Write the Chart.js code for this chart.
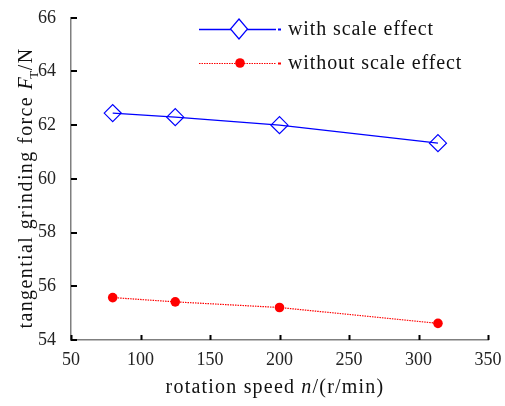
<!DOCTYPE html>
<html>
<head>
<meta charset="utf-8">
<script src="https://cdn.jsdelivr.net/npm/chart.js@4/dist/chart.umd.min.js"></script>
<style>
  html, body { margin: 0; padding: 0; background: #fff; }
  #wrap { width: 505px; height: 406px; position: relative; }
</style>
</head>
<body>
<div id="wrap"><canvas id="forceChart" width="505" height="406"></canvas></div>
<script>
// rotation speed n (r/min)
const speeds = [80, 125, 200, 314];
// tangential grinding force FT (N)
const withScale = [62.45, 62.3, 62.0, 61.33];
const withoutScale = [55.58, 55.42, 55.21, 54.62];

const xTicks = [50, 100, 150, 200, 250, 300, 350];
const yTicks = [54, 56, 58, 60, 62, 64, 66];

const seriesNames = ["with scale effect", "without scale effect"];

const SERIF = '"Liberation Serif", "Times New Roman", serif';
const axisGray = "#7f7f7f";

function toPoints(ys) {
  return speeds.map((s, i) => ({ x: s, y: ys[i] }));
}

// inward tick marks (the library draws outward ones only)
const innerTicks = {
  id: "innerTicks",
  afterDraw(chart) {
    const ctx = chart.ctx;
    const xs = chart.scales.x, ys = chart.scales.y;
    const a = chart.chartArea;
    ctx.save();
    ctx.strokeStyle = "#000";
    ctx.lineWidth = 2;
    ctx.beginPath();
    xTicks.forEach(v => {
      const px = Math.round(xs.getPixelForValue(v)) + 0.5;
      ctx.moveTo(px, a.bottom);
      ctx.lineTo(px, a.bottom - 5);
    });
    yTicks.forEach(v => {
      const py = Math.round(ys.getPixelForValue(v));
      ctx.moveTo(a.left, py);
      ctx.lineTo(a.left + 6, py);
    });
    ctx.stroke();
    ctx.restore();
  }
};

// axis titles with italic symbols and subscript
const axisTitles = {
  id: "axisTitles",
  afterDraw(chart) {
    const ctx = chart.ctx;
    ctx.save();
    ctx.fillStyle = "#111";
    ctx.textBaseline = "middle";
    ctx.letterSpacing = "1.2px";

    // x title
    const partsX = [
      { t: "rotation speed ", f: "20px " + SERIF },
      { t: "n", f: "italic 20px " + SERIF },
      { t: "/(r/min)", f: "20px " + SERIF }
    ];
    let w = 0;
    partsX.forEach(p => { ctx.font = p.f; w += ctx.measureText(p.t).width; });
    let x = 275 - w / 2;
    partsX.forEach(p => {
      ctx.font = p.f;
      ctx.fillText(p.t, x, 388);
      x += ctx.measureText(p.t).width;
    });

    // y title (rotated)
    ctx.translate(27, 188);
    ctx.rotate(-Math.PI / 2);
    ctx.letterSpacing = "1.4px";
    const partsY = [
      { t: "tangential grinding force ", f: "20px " + SERIF, dy: 0, adv: 1 },
      { t: "F", f: "italic 20px " + SERIF, dy: 0, adv: 1, off: 0 },
      { t: "T", f: "13px " + SERIF, dy: 8, adv: 0.6, off: -3 },
      { t: "/N", f: "20px " + SERIF, dy: 0, adv: 1 }
    ];
    w = 0;
    partsY.forEach(p => { ctx.font = p.f; w += ctx.measureText(p.t).width * p.adv; });
    x = -w / 2;
    partsY.forEach(p => {
      ctx.font = p.f;
      ctx.fillText(p.t, x + (p.off || 0), p.dy);
      x += ctx.measureText(p.t).width * p.adv;
    });
    ctx.restore();
  }
};

// legend drawn in the style of the original figure
const lineLegend = {
  id: "lineLegend",
  afterDraw(chart) {
    const ctx = chart.ctx;
    const rows = [
      { y: 29, color: "#0000ff", dash: [], marker: "diamond" },
      { y: 63, color: "#ff0000", dash: [1.5, 1], marker: "dot" }
    ];
    ctx.save();
    rows.forEach((r, i) => {
      ctx.strokeStyle = r.color;
      ctx.lineWidth = i === 0 ? 1.3 : 1.2;
      ctx.setLineDash(r.dash);
      ctx.beginPath();
      ctx.moveTo(199, r.y + 0.5);
      ctx.lineTo(276, r.y + 0.5);
      ctx.stroke();
      ctx.setLineDash([]);
      ctx.lineWidth = 2;
      ctx.beginPath();
      ctx.moveTo(278, r.y + 0.5);
      ctx.lineTo(281, r.y + 0.5);
      ctx.stroke();
      if (r.marker === "diamond") {
        ctx.lineWidth = 1.2;
        ctx.beginPath();
        ctx.moveTo(239, r.y - 10);
        ctx.lineTo(247.5, r.y);
        ctx.lineTo(239, r.y + 10);
        ctx.lineTo(230.5, r.y);
        ctx.closePath();
        ctx.fillStyle = "#fff";
        ctx.fill();
        ctx.stroke();
      } else {
        ctx.fillStyle = r.color;
        ctx.beginPath();
        ctx.arc(240, r.y, 4.8, 0, Math.PI * 2);
        ctx.fill();
      }
      ctx.fillStyle = "#111";
      ctx.font = "20px " + SERIF;
      ctx.letterSpacing = "0.9px";
      ctx.textBaseline = "middle";
      ctx.fillText(seriesNames[i], 288, r.y + 1);
    });
    ctx.restore();
  }
};

const ctx = document.getElementById("forceChart").getContext("2d");
new Chart(ctx, {
  type: "line",
  data: {
    datasets: [
      {
        label: seriesNames[0],
        data: toPoints(withScale),
        borderColor: "#0000ff",
        borderWidth: 1.2,
        pointStyle: "rectRot",
        pointRadius: 8.5,
        pointBorderWidth: 1.2,
        pointBorderColor: "#0000ff",
        pointBackgroundColor: "rgba(255,255,255,0)",
        tension: 0
      },
      {
        label: seriesNames[1],
        data: toPoints(withoutScale),
        borderColor: "#ff0000",
        borderWidth: 1.2,
        borderDash: [1.5, 1],
        pointStyle: "circle",
        pointRadius: 4.8,
        pointBorderWidth: 0,
        pointBackgroundColor: "#ff0000",
        tension: 0
      }
    ]
  },
  options: {
    responsive: false,
    animation: false,
    events: [],
    layout: { padding: { top: 17, right: 17, left: 0, bottom: 0 } },
    plugins: {
      legend: { display: false },
      tooltip: { enabled: false }
    },
    scales: {
      x: {
        type: "linear",
        min: 50,
        max: 350,
        afterBuildTicks: s => { s.ticks = xTicks.map(v => ({ value: v })); },
        afterFit: s => { s.height = 66; },
        grid: { display: false },
        border: { display: true, color: axisGray, width: 1.5 },
        ticks: { color: "#222", padding: 1, font: { family: SERIF, size: 18 } }
      },
      y: {
        min: 54,
        max: 66,
        afterBuildTicks: s => { s.ticks = yTicks.map(v => ({ value: v })); },
        afterFit: s => { s.width = 71; },
        grid: { display: false },
        border: { display: true, color: axisGray, width: 1.5 },
        ticks: { color: "#222", padding: 7, font: { family: SERIF, size: 18 } }
      }
    }
  },
  plugins: [innerTicks, axisTitles, lineLegend]
});
</script>
</body>
</html>
